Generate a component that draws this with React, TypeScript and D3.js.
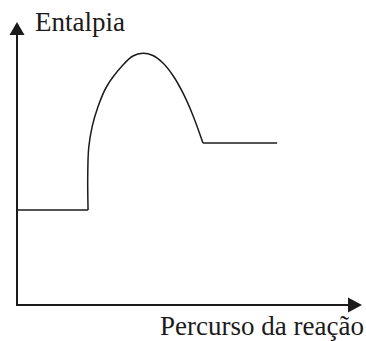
import React from "react";
import * as d3 from "d3";

// Enthalpy profile of an endothermic reaction (arbitrary units)
const reactantLevel = { from: 0, to: 20.6, enthalpy: 100 };
const productLevel = { from: 53.9, to: 75.4, enthalpy: 170.5 };

// Reaction path over the activation barrier: progress and enthalpy
const barrierProgress = [20.6, 20.5, 20.8, 21.8, 23.4, 26.0, 30.7, 33.6, 36.5, 39.4, 42.3, 45.2, 48.1, 51.0, 53.9];
const barrierEnthalpy = [100, 135, 166, 188, 208, 230, 252.6, 262.1, 265, 262.6, 254.7, 241.6, 223.2, 199.5, 170.5];

const axisLabels = { y: "Entalpia", x: "Percurso da reação" };

const W = 366;
const H = 341;

export default function App() {
  const x = d3.scaleLinear().domain([0, 100]).range([17, 362]);
  const y = d3.scaleLinear().domain([0, 300]).range([305, 20]);

  const barrier = barrierProgress.map((p, i) => [p, barrierEnthalpy[i]] as [number, number]);
  const curve = d3
    .line<[number, number]>()
    .x((d) => x(d[0]))
    .y((d) => y(d[1]))
    .curve(d3.curveCatmullRom.alpha(0.5));
  const flat = d3
    .line<[number, number]>()
    .x((d) => x(d[0]))
    .y((d) => y(d[1]));

  const x0 = x(0);
  const y0 = y(0);
  const xEnd = x.range()[1];
  const yTop = y(0) - 283;
  const ink = "#1c1a1a";

  return (
    <svg
      width={W}
      height={H}
      style={{ position: "absolute", left: 0, top: 0, background: "#fff" }}
    >
      {/* axes */}
      <line x1={x0} y1={y0} x2={x0} y2={yTop + 12} stroke={ink} strokeWidth={2} />
      <path d={`M${x0},${yTop} L${x0 - 7.5},${yTop + 13} L${x0 + 7.5},${yTop + 13} Z`} fill={ink} />
      <line x1={x0 - 1} y1={y0} x2={xEnd - 12} y2={y0} stroke={ink} strokeWidth={2.2} />
      <path d={`M${xEnd},${y0} L${xEnd - 14},${y0 - 7.5} L${xEnd - 14},${y0 + 7.5} Z`} fill={ink} />

      {/* enthalpy profile */}
      <path
        d={flat([
          [reactantLevel.from, reactantLevel.enthalpy],
          [reactantLevel.to, reactantLevel.enthalpy],
        ]) as string}
        fill="none"
        stroke={ink}
        strokeWidth={1.5}
      />
      <path d={curve(barrier) as string} fill="none" stroke={ink} strokeWidth={1.5} strokeLinejoin="round" />
      <path
        d={flat([
          [productLevel.from, productLevel.enthalpy],
          [productLevel.to, productLevel.enthalpy],
        ]) as string}
        fill="none"
        stroke={ink}
        strokeWidth={1.5}
      />

      {/* axis titles */}
      <text x={35} y={30.5} style={{ fontFamily: "Liberation Serif", fontSize: 27, fill: ink }}>
        {axisLabels.y}
      </text>
      <text x={160} y={335} style={{ fontFamily: "Liberation Serif", fontSize: 27, fill: ink }}>
        {axisLabels.x}
      </text>
    </svg>
  );
}
